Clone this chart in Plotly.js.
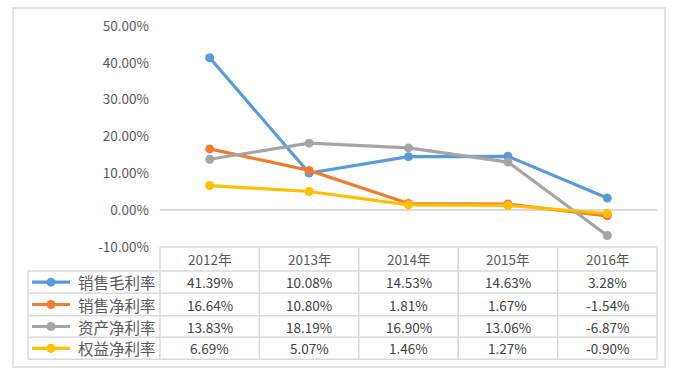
<!DOCTYPE html>
<html>
<head>
<meta charset="utf-8">
<script src="https://cdn.plot.ly/plotly-3.0.1.min.js"></script>
<style>html,body{margin:0;padding:0;background:#fff;}#chart{width:675px;height:377px;}</style>
</head>
<body>
<div id="chart"></div>
<script>
var categories = ['2012年', '2013年', '2014年', '2015年', '2016年'];
var seriesNames = ['销售毛利率', '销售净利率', '资产净利率', '权益净利率'];
var grossMargin = [41.39, 10.08, 14.53, 14.63, 3.28];
var netMargin = [16.64, 10.80, 1.81, 1.67, -1.54];
var roa = [13.83, 18.19, 16.90, 13.06, -6.87];
var roe = [6.69, 5.07, 1.46, 1.27, -0.90];
var seriesValues = [grossMargin, netMargin, roa, roe];
var colors = ['#5B9BD5', '#ED7D31', '#A5A5A5', '#FFC000'];
var yTicks = [-10, 0, 10, 20, 30, 40, 50];

var W = 675, H = 377;
var L = 160, R = 657, T = 26, B = 247;
function px2x(px){ return (px - L) / (R - L); }
function py2y(py){ return (B - py) / (B - T); }

var traces = seriesValues.map(function(v, i){
  return {
    type: 'scatter', mode: 'lines+markers', x: categories, y: v, name: seriesNames[i],
    line: {color: colors[i], width: 3.2},
    marker: {color: colors[i], size: 9},
    cliponaxis: false, hoverinfo: 'skip'
  };
});

var gridColor = '#D9D9D9';
var textColor = '#595959';
var shapes = [];
var annotations = [];
// outer border
shapes.push({type:'rect', xref:'paper', yref:'paper', x0:px2x(13), x1:px2x(665), y0:py2y(8), y1:py2y(367), line:{color:'#D9D9D9', width:1.5}});

var rowEdges = [247, 271, 293.3, 315.7, 337.3, 359.3];
var colEdges = [28, 160, 259.4, 358.8, 458.2, 557.6, 657];
// horizontal lines
rowEdges.forEach(function(py, k){
  shapes.push({type:'line', xref:'paper', yref:'paper', x0:px2x(k===0?160:28), x1:px2x(657), y0:py2y(py), y1:py2y(py), line:{color:gridColor, width:1.5}});
});
// vertical lines
colEdges.forEach(function(px, k){
  shapes.push({type:'line', xref:'paper', yref:'paper', x0:px2x(px), x1:px2x(px), y0:py2y(k===0?271:247), y1:py2y(359.3), line:{color:gridColor, width:1.5}});
});
// header
categories.forEach(function(c, j){
  annotations.push({xref:'x', yref:'paper', x:c, y:py2y(259), text:c, showarrow:false, xanchor:'center', yanchor:'middle', font:{family:'Noto Sans CJK SC, sans-serif', size:13.5, color:textColor}});
});
function fmt(v){ return v.toFixed(2) + '%'; }
seriesValues.forEach(function(v, i){
  var cy = (rowEdges[i+1] + rowEdges[i+2]) / 2;
  shapes.push({type:'line', xref:'paper', yref:'paper', x0:px2x(32), x1:px2x(70), y0:py2y(cy), y1:py2y(cy), line:{color:colors[i], width:3.2}});
  shapes.push({type:'circle', xref:'paper', yref:'paper', x0:px2x(46.5), x1:px2x(55.5), y0:py2y(cy+4.5), y1:py2y(cy-4.5), fillcolor:colors[i], line:{color:colors[i], width:0}});
  annotations.push({xref:'paper', yref:'paper', x:px2x(76), y:py2y(cy), text:seriesNames[i], showarrow:false, xanchor:'left', yanchor:'middle', font:{family:'Noto Sans CJK SC, sans-serif', size:15.5, color:textColor}});
  v.forEach(function(val, j){
    annotations.push({xref:'x', yref:'paper', x:categories[j], y:py2y(cy), text:fmt(val), showarrow:false, xanchor:'center', yanchor:'middle', font:{family:'Noto Sans CJK SC, sans-serif', size:13.5, color:'#404040'}});
  });
});

var layout = {
  width: W, height: H,
  margin: {l: L, r: W - R, t: T, b: H - B, pad: 0},
  paper_bgcolor: '#fff', plot_bgcolor: '#fff',
  showlegend: false,
  xaxis: {type:'category', range:[-0.5, 4.5], showticklabels:false, showgrid:false, zeroline:false, showline:false, ticks:''},
  yaxis: {range:[-10, 50], tickvals: yTicks, ticktext: yTicks.map(function(t){return t.toFixed(2)+'%';}),
    showgrid:false, zeroline:true, zerolinecolor:'#D9D9D9', zerolinewidth:1.5, showline:false, ticks:'',
    ticklabelstandoff: 10,
    tickfont:{family:'Noto Sans CJK SC, sans-serif', size:13.5, color:textColor}},
  shapes: shapes,
  annotations: annotations
};
Plotly.newPlot('chart', traces, layout, {displayModeBar:false, staticPlot:true});
</script>
</body>
</html>
